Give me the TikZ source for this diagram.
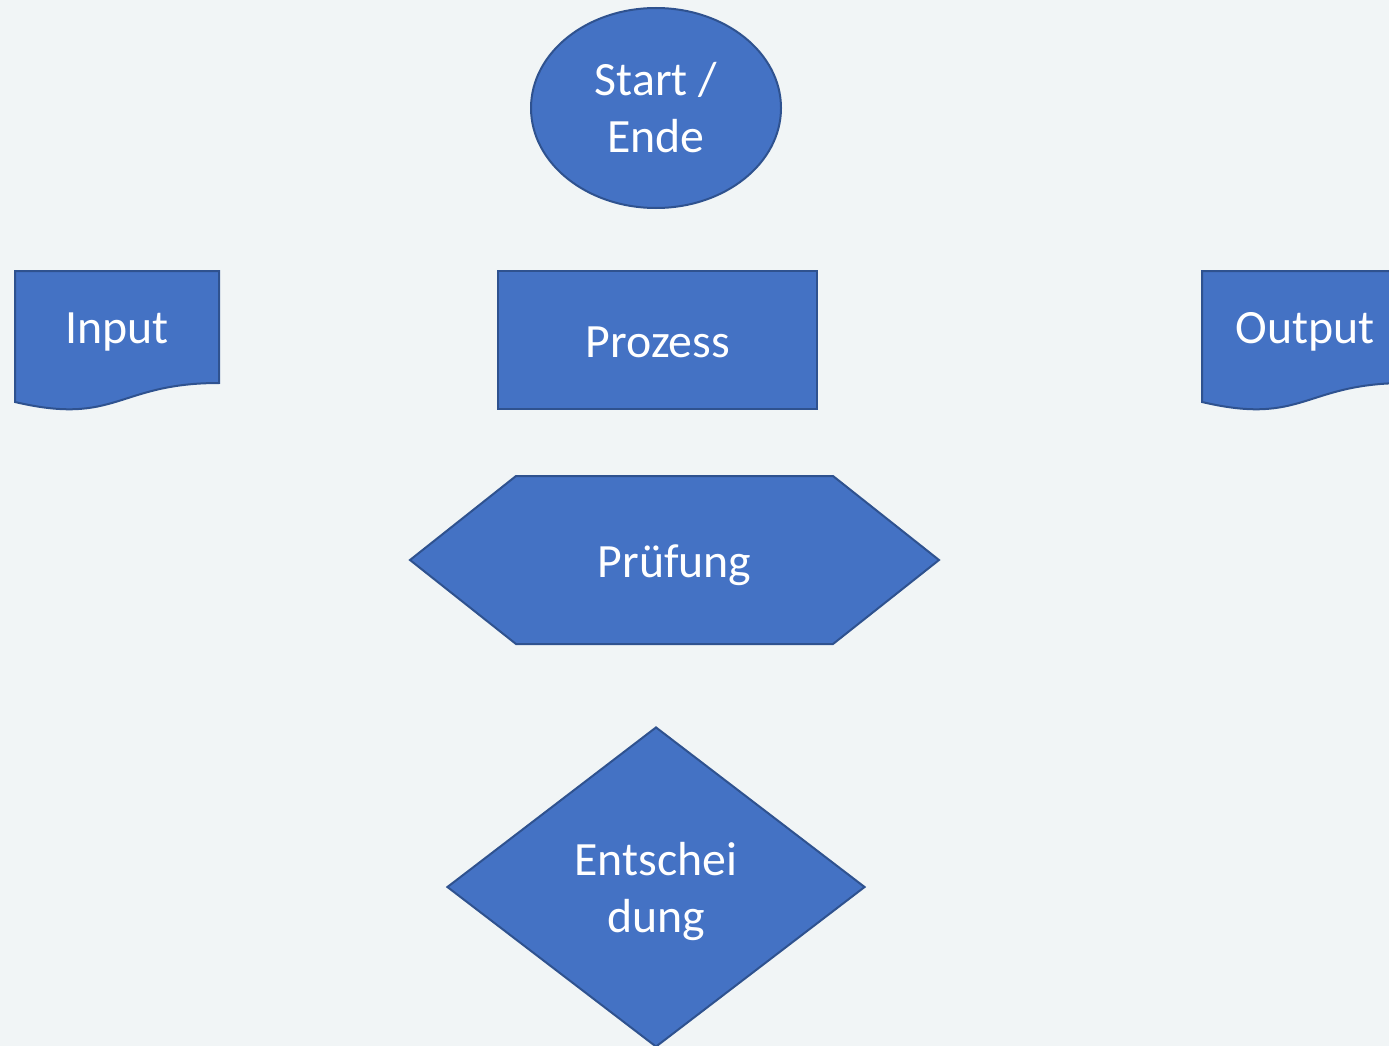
\documentclass[tikz,border=0pt]{standalone}
\usepackage{fontspec}
\setmainfont{Carlito}
\usetikzlibrary{shapes.geometric}
\definecolor{shapeblue}{RGB}{68,114,196}
\definecolor{edgeblue}{RGB}{47,82,143}
\definecolor{paper}{RGB}{241,245,246}

\begin{document}
\begin{tikzpicture}[x=1pt,y=-1pt,
  bluebox/.style={draw=edgeblue, fill=shapeblue, line width=2pt},
  label/.style={text=white, align=center, inner sep=0pt,
    font=\fontsize{47.8}{57}\selectfont}]
  \fill[paper] (0,0) rectangle (1389,1046);
  \useasboundingbox (0,0) rectangle (1389,1046);
  \clip (0,0) rectangle (1389,1046);

  % start / ende
  \node[bluebox, ellipse, minimum width=250pt, minimum height=200pt] (start) at (656,108) {};
  \node[label, anchor=base] (starttext) at (656,153) {Start /\\Ende};

  % prozess
  \node[bluebox, rectangle, minimum width=319pt, minimum height=138pt] (prozess) at (657.5,340) {};
  \node[label, anchor=base] (prozesstext) at (658,357) {Prozess};

  % input / output (document)
  \draw[bluebox] (15,271) -- (219,271) -- (219,383)
    .. controls (117,383) and (117,426) .. (15,402) -- cycle;
  \node[label, anchor=base] (input) at (117,343) {Input};
  \draw[bluebox] (1202,271) -- (1406,271) -- (1406,383)
    .. controls (1304,383) and (1304,426) .. (1202,402) -- cycle;
  \node[label, anchor=base] (output) at (1305,343) {Output};

  % pruefung
  \draw[bluebox] (410,560) -- (516,476) -- (833,476) -- (939,560)
    -- (833,644) -- (516,644) -- cycle;
  \node[label, anchor=base] (pruefung) at (674.5,577) {Prüfung};

  % entscheidung
  \node[bluebox, diamond, minimum width=418pt, minimum height=320pt, inner sep=0pt] (entsch) at (656,887) {};
  \node[label, anchor=base] (entschtext) at (656,932) {Entschei\\dung};
\end{tikzpicture}
\end{document}
